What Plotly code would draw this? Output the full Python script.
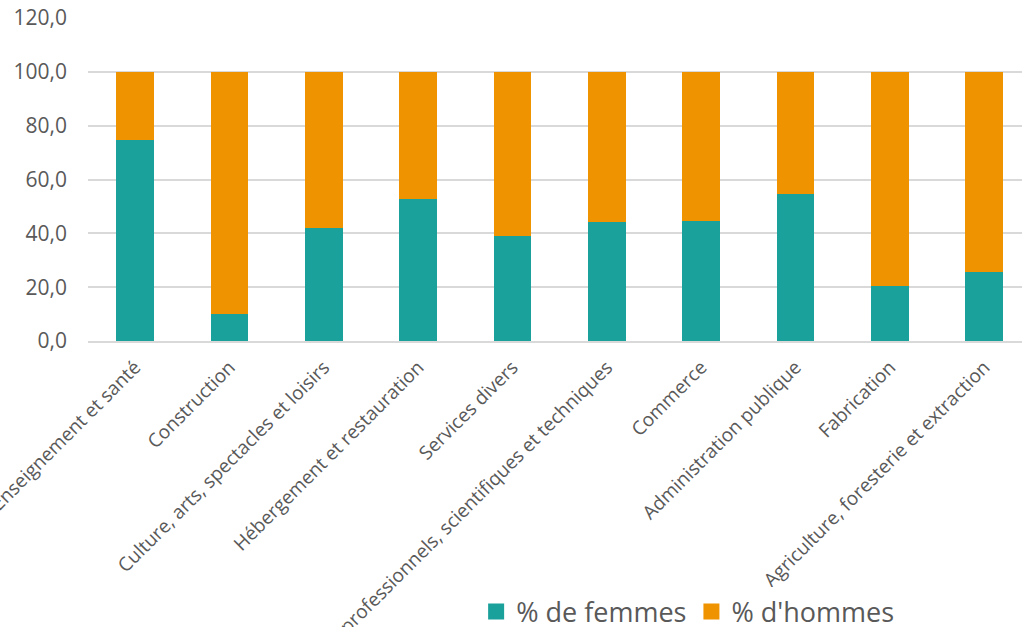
import plotly.graph_objects as go

categories = [
    "Enseignement et santé",
    "Construction",
    "Culture, arts, spectacles et loisirs",
    "Hébergement et restauration",
    "Services divers",
    "Services professionnels, scientifiques et techniques",
    "Commerce",
    "Administration publique",
    "Fabrication",
    "Agriculture, foresterie et extraction",
]
femmes = [74.8, 10.0, 41.8, 52.9, 39.0, 44.3, 44.7, 54.8, 20.3, 25.8]
hommes = [round(100 - v, 1) for v in femmes]
y_ticks = [0, 20, 40, 60, 80, 100, 120]
series_names = ["% de femmes", "% d'hommes"]

TEAL = "#1BA19B"
ORANGE = "#F09300"
FONT = "Open Sans"

fig = go.Figure()
for vals, name, col in [(femmes, series_names[0], TEAL), (hommes, series_names[1], ORANGE)]:
    fig.add_trace(go.Bar(x=categories, y=vals, name=name, showlegend=False,
                         marker=dict(color=col, line=dict(width=0))))
# legend proxies (larger square swatches)
for name, col in [(series_names[0], TEAL), (series_names[1], ORANGE)]:
    fig.add_trace(go.Scatter(x=[None], y=[None], mode="markers", name=name,
                             marker=dict(symbol="square", size=18, color=col)))

fig.update_layout(
    barmode="stack",
    bargap=0.6,
    width=1022,
    height=627,
    margin=dict(l=88, r=0, t=18, b=286, autoexpand=False),
    paper_bgcolor="white",
    plot_bgcolor="white",
    separators=", ",
    font=dict(family=FONT, color="#595959"),
    showlegend=True,
    legend=dict(orientation="h", x=0.642, xanchor="center", y=-0.839,
                yanchor="middle", font=dict(size=27, color="#595959"),
                traceorder="normal", itemwidth=30),
)
fig.update_xaxes(
    range=[-0.5, 9.4],
    tickangle=-45,
    tickfont=dict(size=19, color="#595959"),
    showline=True, linecolor="#D9D9D9", linewidth=1.5,
    ticks="", automargin=False,
    ticklabelstandoff=6,
)
fig.update_yaxes(
    range=[0, 120],
    tickvals=y_ticks,
    tickformat=".1f",
    tickfont=dict(size=21, color="#595959"),
    showgrid=True, gridcolor="#D9D9D9", gridwidth=1.5,
    zeroline=False, showline=False, ticks="",
    ticklabelstandoff=20,
    automargin=False,
)

fig.write_html("out.html", config={"displayModeBar": False},
               post_script="document.body.style.margin='0';document.body.style.padding='0';")
